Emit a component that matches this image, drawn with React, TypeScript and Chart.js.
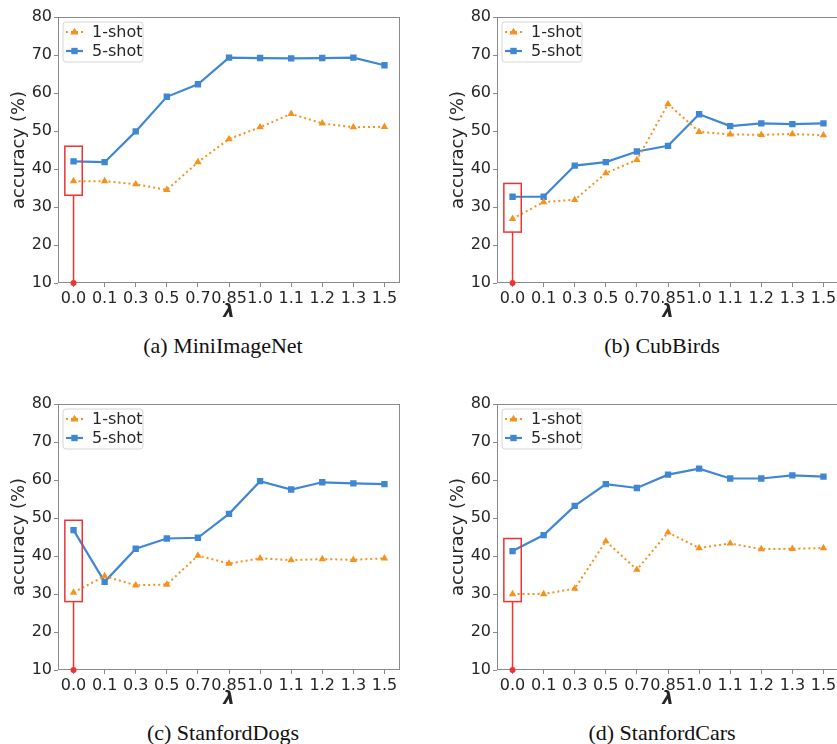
import React, { useEffect, useRef } from 'react';
import { Chart, registerables } from 'chart.js';

Chart.register(...registerables);

// ---------- data ----------
const lambdas = ['0.0', '0.1', '0.3', '0.5', '0.7', '0.85', '1.0', '1.1', '1.2', '1.3', '1.5'];
const seriesNames = ['1-shot', '5-shot'];

const miniOneShot = [36.8, 36.8, 36.0, 34.5, 41.8, 47.9, 51.0, 54.5, 52.0, 51.0, 51.1];
const miniFiveShot = [42.0, 41.8, 49.9, 59.0, 62.3, 69.3, 69.2, 69.1, 69.2, 69.3, 67.3];

const cubOneShot = [26.9, 31.3, 31.9, 38.9, 42.4, 57.1, 49.8, 49.1, 49.0, 49.2, 48.9];
const cubFiveShot = [32.7, 32.7, 40.9, 41.8, 44.6, 46.1, 54.4, 51.3, 52.0, 51.8, 52.0];

const dogsOneShot = [30.4, 34.7, 32.3, 32.5, 40.1, 38.0, 39.4, 38.9, 39.2, 39.0, 39.4];
const dogsFiveShot = [46.8, 33.2, 41.9, 44.6, 44.8, 51.1, 59.7, 57.5, 59.4, 59.1, 58.9];

const carsOneShot = [30.0, 30.0, 31.4, 43.9, 36.4, 46.2, 42.1, 43.3, 41.8, 41.9, 42.1];
const carsFiveShot = [41.3, 45.5, 53.2, 58.9, 57.9, 61.4, 63.0, 60.4, 60.4, 61.2, 60.9];

const captions = ['(a) MiniImageNet', '(b) CubBirds', '(c) StanfordDogs', '(d) StanfordCars'];
// red highlight box around lambda = 0.0 (accuracy range)
const redBoxTop = [46.0, 36.2, 49.4, 44.6];
const redBoxBottom = [33.1, 23.4, 28.0, 28.0];

const yMin = 10;
const yMax = 80;
const yStep = 10;

// ---------- styles / layout ----------
const ORANGE = '#f5921e';
const BLUE = '#3f87d3';
const RED = '#ee3333';
const FRAME = '#8a8a8a';
const TEXT = '#262626';
const SANS = "'DejaVu Sans', sans-serif";
const SERIF = "'Liberation Serif', 'Times New Roman', serif";

const CANVAS_W = 418;
const CANVAS_H = 323;

const panelLayout = [
  { left: 0, top: 0, capX: 223, capY: 346 },
  { left: 439, top: 0, capX: 662, capY: 346 },
  { left: 0, top: 387, capX: 223, capY: 733 },
  { left: 439, top: 387, capX: 662, capY: 733 },
];

const panelData = [
  [miniOneShot, miniFiveShot],
  [cubOneShot, cubFiveShot],
  [dogsOneShot, dogsFiveShot],
  [carsOneShot, carsFiveShot],
];

function drawMarker(ctx: CanvasRenderingContext2D, style: string, x: number, y: number, r: number) {
  ctx.beginPath();
  if (style === 'triangle') {
    ctx.moveTo(x, y - r);
    ctx.lineTo(x + r * 0.866 * 1.1, y + r * 0.6);
    ctx.lineTo(x - r * 0.866 * 1.1, y + r * 0.6);
    ctx.closePath();
  } else {
    const s = r * Math.SQRT1_2;
    ctx.rect(x - s, y - s, 2 * s, 2 * s);
  }
  ctx.fill();
}

function makePlugins(idx: number) {
  const framePlugin = {
    id: 'frame' + idx,
    beforeDatasetsDraw(chart: any) {
      const { ctx, chartArea } = chart;
      ctx.save();
      ctx.strokeStyle = FRAME;
      ctx.lineWidth = 1;
      ctx.strokeRect(
        Math.round(chartArea.left) + 0.5,
        Math.round(chartArea.top) + 0.5,
        Math.round(chartArea.right - chartArea.left) - 1,
        Math.round(chartArea.bottom - chartArea.top) - 1
      );
      ctx.restore();
    },
  };

  const highlightPlugin = {
    id: 'highlight' + idx,
    afterDatasetsDraw(chart: any) {
      const { ctx } = chart;
      const xs = chart.scales.x;
      const ys = chart.scales.y;
      const x0 = xs.getPixelForValue(0);
      const step = xs.getPixelForValue(1) - x0;
      const hw = step * 0.28;
      const yT = ys.getPixelForValue(redBoxTop[idx]);
      const yB = ys.getPixelForValue(redBoxBottom[idx]);
      const yBase = ys.getPixelForValue(yMin);
      ctx.save();
      ctx.strokeStyle = RED;
      ctx.lineWidth = 1.5;
      ctx.strokeRect(x0 - hw, yT, 2 * hw, yB - yT);
      ctx.beginPath();
      ctx.moveTo(x0, yB);
      ctx.lineTo(x0, yBase);
      ctx.stroke();
      ctx.fillStyle = RED;
      ctx.beginPath();
      ctx.arc(x0, yBase, 3, 0, Math.PI * 2);
      ctx.fill();
      ctx.restore();
    },
  };

  const legendPlugin = {
    id: 'legendbox' + idx,
    afterDraw(chart: any) {
      const { ctx, chartArea } = chart;
      const bx = chartArea.left + 5;
      const by = chartArea.top + 5;
      const bw = 80;
      const bh = 40;
      ctx.save();
      ctx.fillStyle = 'rgba(255,255,255,0.85)';
      ctx.strokeStyle = '#d6d6d6';
      ctx.lineWidth = 1;
      ctx.beginPath();
      const r = 3;
      ctx.moveTo(bx + r, by);
      ctx.lineTo(bx + bw - r, by);
      ctx.quadraticCurveTo(bx + bw, by, bx + bw, by + r);
      ctx.lineTo(bx + bw, by + bh - r);
      ctx.quadraticCurveTo(bx + bw, by + bh, bx + bw - r, by + bh);
      ctx.lineTo(bx + r, by + bh);
      ctx.quadraticCurveTo(bx, by + bh, bx, by + bh - r);
      ctx.lineTo(bx, by + r);
      ctx.quadraticCurveTo(bx, by, bx + r, by);
      ctx.closePath();
      ctx.fill();
      ctx.stroke();
      chart.data.datasets.forEach((ds: any, i: number) => {
        const cy = by + 10 + i * 19;
        const lx0 = chartArea.left + 8;
        const lx1 = chartArea.left + 25;
        ctx.strokeStyle = ds.borderColor;
        ctx.lineWidth = ds.borderWidth;
        ctx.setLineDash(ds.borderDash || []);
        ctx.beginPath();
        ctx.moveTo(lx0, cy);
        ctx.lineTo(lx1, cy);
        ctx.stroke();
        ctx.setLineDash([]);
        ctx.fillStyle = ds.borderColor;
        drawMarker(ctx, ds.pointStyle, (lx0 + lx1) / 2, cy, ds.pointRadius);
        ctx.fillStyle = TEXT;
        ctx.font = `16px ${SANS}`;
        ctx.textBaseline = 'middle';
        ctx.textAlign = 'left';
        ctx.fillText(ds.label, chartArea.left + 34, cy + 1);
      });
      ctx.restore();
    },
  };

  return [framePlugin, highlightPlugin, legendPlugin];
}

function Panel({ idx }: { idx: number }) {
  const ref = useRef<HTMLCanvasElement | null>(null);
  useEffect(() => {
    if (!ref.current) return;
    const [one, five] = panelData[idx];
    const chart = new Chart(ref.current, {
      type: 'line',
      data: {
        labels: lambdas,
        datasets: [
          {
            label: seriesNames[0],
            data: one,
            borderColor: ORANGE,
            backgroundColor: ORANGE,
            borderWidth: 2,
            borderDash: [2, 3],
            pointStyle: 'triangle',
            pointRadius: 4.3,
            pointBorderWidth: 0,
            tension: 0,
            fill: false,
          },
          {
            label: seriesNames[1],
            data: five,
            borderColor: BLUE,
            backgroundColor: BLUE,
            borderWidth: 2.2,
            pointStyle: 'rect',
            pointRadius: 4.5,
            pointBorderWidth: 0,
            tension: 0,
            fill: false,
          },
        ],
      },
      options: {
        responsive: false,
        animation: false,
        devicePixelRatio: 1,
        layout: { padding: { top: 17, right: 18, bottom: 0, left: 0 } },
        plugins: {
          legend: { display: false },
          tooltip: { enabled: false },
          title: { display: false },
        },
        scales: {
          x: {
            type: 'category',
            offset: true,
            afterFit(scale: any) {
              scale.height = 40;
            },
            border: { display: false },
            grid: {
              display: true,
              drawOnChartArea: false,
              drawTicks: true,
              tickLength: 4,
              color: FRAME,
              offset: false,
            },
            ticks: {
              autoSkip: false,
              maxRotation: 0,
              minRotation: 0,
              padding: 2,
              color: TEXT,
              font: { family: SANS, size: 16 },
            },
            title: {
              display: true,
              text: 'λ',
              color: TEXT,
              padding: { top: 0, bottom: 0 },
              font: { family: SANS, size: 18, style: 'italic', weight: 'bold' },
            },
          },
          y: {
            min: yMin,
            max: yMax,
            afterFit(scale: any) {
              scale.width = 58;
            },
            border: { display: false },
            grid: {
              display: true,
              drawOnChartArea: false,
              drawTicks: true,
              tickLength: 4,
              color: FRAME,
            },
            ticks: {
              stepSize: yStep,
              padding: 2,
              color: TEXT,
              font: { family: SANS, size: 16 },
            },
            title: {
              display: true,
              text: 'accuracy (%)',
              color: TEXT,
              padding: { top: 9, bottom: 0 },
              font: { family: SANS, size: 18 },
            },
          },
        },
      },
      plugins: makePlugins(idx),
    } as any);
    return () => chart.destroy();
  }, [idx]);

  const p = panelLayout[idx];
  return (
    <>
      <canvas
        ref={ref}
        width={CANVAS_W}
        height={CANVAS_H}
        style={{ position: 'absolute', left: p.left, top: p.top, width: CANVAS_W, height: CANVAS_H }}
      />
      <div
        style={{
          position: 'absolute',
          left: p.capX - 150,
          top: p.capY - 13,
          width: 300,
          textAlign: 'center',
          fontFamily: SERIF,
          fontSize: 22,
          lineHeight: '26px',
          color: '#111',
          whiteSpace: 'nowrap',
        }}
      >
        {captions[idx]}
      </div>
    </>
  );
}

export default function App() {
  return (
    <div
      style={{
        position: 'absolute',
        left: 0,
        top: 0,
        width: 837,
        height: 744,
        overflow: 'hidden',
        background: '#fff',
      }}
    >
      {[0, 1, 2, 3].map((i) => (
        <Panel key={i} idx={i} />
      ))}
    </div>
  );
}
